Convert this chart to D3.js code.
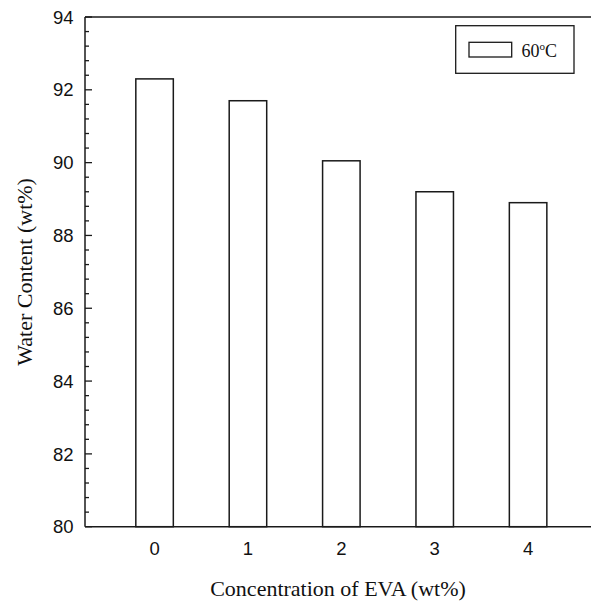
<!DOCTYPE html>
<html>
<head>
<meta charset="utf-8">
<script src="https://cdn.jsdelivr.net/npm/d3@7"></script>
<style>
  html, body { margin: 0; padding: 0; background: #fff; }
  svg { display: block; }
</style>
</head>
<body>
<svg id="chart" width="591" height="604"></svg>
<script>
// Water content of samples versus EVA concentration, measured at 60 °C
const categories = [0, 1, 2, 3, 4];
const waterContent = [92.3, 91.7, 90.05, 89.2, 88.9];
const yTickValues = [80, 82, 84, 86, 88, 90, 92, 94];
const seriesName = "60";

const W = 591, H = 604;
const margin = { left: 85, top: 17, bottom: 77 };
const svg = d3.select("#chart");

const x = d3.scaleLinear().domain([-0.745, 4.77]).range([margin.left, 600]);
const y = d3.scaleLinear().domain([80, 94]).range([526.7, margin.top]);
const barW = 37.5;
const ink = "#1a1a1a";

// bars
svg.append("g").selectAll("rect")
  .data(categories)
  .join("rect")
  .attr("x", (d) => x(d) - barW / 2)
  .attr("y", (d, i) => y(waterContent[i]))
  .attr("width", barW)
  .attr("height", (d, i) => y(80) - y(waterContent[i]))
  .attr("fill", "#fff")
  .attr("stroke", ink)
  .attr("stroke-width", 1.5);

// left axis with inward ticks
const minorTicks = d3.range(80, 94.001, 0.4).filter(v => Math.abs(v - Math.round(v / 2) * 2) > 1e-6);
const yAxis = svg.append("g");
yAxis.selectAll("line.minor")
  .data(minorTicks)
  .join("line")
  .attr("class", "minor")
  .attr("x1", margin.left).attr("x2", margin.left + 4)
  .attr("y1", d => y(d)).attr("y2", d => y(d))
  .attr("stroke", ink).attr("stroke-width", 1.3);
yAxis.selectAll("line.major")
  .data(yTickValues)
  .join("line")
  .attr("class", "major")
  .attr("x1", margin.left).attr("x2", margin.left + 7)
  .attr("y1", d => y(d)).attr("y2", d => y(d))
  .attr("stroke", ink).attr("stroke-width", 1.3);
yAxis.selectAll("text")
  .data(yTickValues)
  .join("text")
  .attr("x", 73.5)
  .attr("y", d => y(d))
  .attr("dy", "0.36em")
  .attr("text-anchor", "end")
  .attr("font-family", "Liberation Sans, Arial, sans-serif")
  .attr("font-size", 18.5)
  .attr("fill", "#111")
  .text(d => d);

// frame lines: left, bottom, top
svg.append("line")
  .attr("x1", margin.left).attr("x2", margin.left)
  .attr("y1", y(94)).attr("y2", y(80))
  .attr("stroke", ink).attr("stroke-width", 1.5);
svg.append("line")
  .attr("x1", margin.left).attr("x2", W)
  .attr("y1", y(80)).attr("y2", y(80))
  .attr("stroke", ink).attr("stroke-width", 1.5);
svg.append("line")
  .attr("x1", margin.left).attr("x2", W)
  .attr("y1", y(94)).attr("y2", y(94))
  .attr("stroke", ink).attr("stroke-width", 1.5);

// x tick labels
svg.append("g").selectAll("text")
  .data(categories)
  .join("text")
  .attr("x", d => x(d))
  .attr("y", 555)
  .attr("text-anchor", "middle")
  .attr("font-family", "Liberation Sans, Arial, sans-serif")
  .attr("font-size", 18.5)
  .attr("fill", "#111")
  .text(d => d);

// axis titles
svg.append("text")
  .attr("x", 338)
  .attr("y", 596)
  .attr("text-anchor", "middle")
  .attr("font-family", "Liberation Serif, Times New Roman, serif")
  .attr("font-size", 22)
  .attr("fill", "#111")
  .text("Concentration of EVA (wt%)");
svg.append("text")
  .attr("transform", `translate(32,${(y(80) + y(94)) / 2}) rotate(-90)`)
  .attr("text-anchor", "middle")
  .attr("font-family", "Liberation Serif, Times New Roman, serif")
  .attr("font-size", 22)
  .attr("fill", "#111")
  .text("Water Content (wt%)");

// legend
const lg = svg.append("g");
lg.append("rect")
  .attr("x", 455.7).attr("y", 25.7)
  .attr("width", 118.3).attr("height", 47.6)
  .attr("fill", "#fff").attr("stroke", ink).attr("stroke-width", 1.3);
lg.append("rect")
  .attr("x", 469).attr("y", 42.3)
  .attr("width", 42.7).attr("height", 14.7)
  .attr("fill", "#fff").attr("stroke", ink).attr("stroke-width", 1.3);
const lt = lg.append("text")
  .attr("x", 521.5).attr("y", 56.5)
  .attr("font-family", "Liberation Serif, Times New Roman, serif")
  .attr("font-size", 18)
  .attr("fill", "#111");
lt.append("tspan").text(seriesName);
lt.append("tspan").attr("font-size", 11).attr("dy", -7).text("o");
lt.append("tspan").attr("dy", 7).text("C");
</script>
</body>
</html>
